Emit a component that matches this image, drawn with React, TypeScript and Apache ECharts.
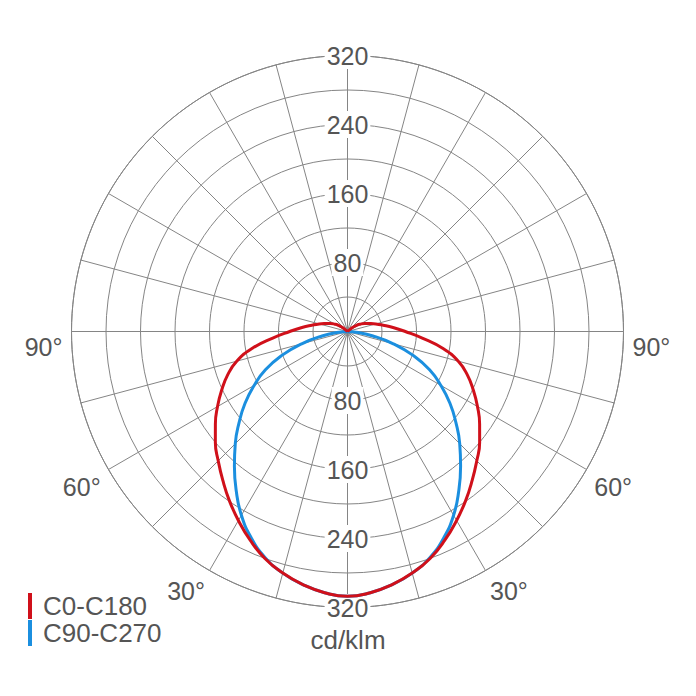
import React, { useEffect, useRef } from 'react';
import * as echarts from 'echarts';

// Polar angle (degrees from nadir) and luminous intensity (cd/klm)
const ANGLES = [0, 5, 10, 15, 20, 25, 30, 35, 40, 45, 50, 55, 60, 65, 70, 75, 80, 85, 90, 95, 100, 105, 110, 115, 120, 125, 130, 135];
const C0_C180 = [307, 304, 298, 290, 280, 267, 253, 239, 225, 212, 200, 187, 174, 161, 148, 133, 112, 87, 67, 53, 42, 34, 27, 22, 17, 12, 6, 0];
const C90_C270 = [307, 304, 298, 290, 279, 264, 246, 225, 204, 184, 164, 145, 125, 105, 81, 55, 30, 10, 0, 0, 0, 0, 0, 0, 0, 0, 0, 0];
const RADIUS_LABELS = [80, 160, 240, 320];
const ANGLE_LABELS = [30, 60, 90];
const SERIES_NAMES = ['C0-C180', 'C90-C270'];
const UNIT = 'cd/klm';

const RED = '#d0101a';
const BLUE = '#1b8fdf';
const GRID = '#858585';
const TEXT = '#555555';
const FONT = '"Liberation Sans", Arial, Helvetica, sans-serif';

function toPolar(values: number[]): [number, number][] {
  const half: [number, number][] = [];
  for (let i = 0; i < ANGLES.length; i++) {
    half.push([values[i], ANGLES[i]]);
    if (values[i] === 0) break;
  }
  const left = half.slice().reverse();
  const right = half.slice(1).map(([r, a]) => [r, 360 - a] as [number, number]);
  return [...left, ...right];
}

const radiusLabel = {
  margin: 0,
  align: 'center',
  verticalAlign: 'middle',
  formatter: (v: number) => (RADIUS_LABELS.indexOf(v) >= 0 ? `{b|${v}}` : ''),
  rich: {
    b: {
      fontSize: 25,
      fontFamily: FONT,
      color: TEXT,
      backgroundColor: '#ffffff',
      padding: [1, 2],
      lineHeight: 20,
    },
  },
};

export default function App() {
  const ref = useRef<HTMLDivElement>(null);
  useEffect(() => {
    document.body.style.margin = '0';
    if (!ref.current) return;
    const chart = echarts.init(ref.current, undefined, { renderer: 'svg' });
    chart.setOption({
      animation: false,
      backgroundColor: '#ffffff',
      textStyle: { fontFamily: FONT },
      title: {
        text: UNIT,
        left: 'center',
        top: 627,
        padding: 0,
        textStyle: { fontSize: 26, fontWeight: 'normal', color: TEXT, fontFamily: FONT },
      },
      legend: {
        data: SERIES_NAMES,
        orient: 'vertical',
        left: 28,
        top: 593,
        padding: 0,
        icon: 'rect',
        itemWidth: 4,
        itemHeight: 26,
        itemGap: 1,
        selectedMode: false,
        textStyle: { fontSize: 26, color: TEXT, fontFamily: FONT, padding: [0, 0, 0, 6] },
      },
      polar: [
        { center: [347.5, 331.5], radius: 276 },
        { center: [347.5, 331.5], radius: 276 },
      ],
      angleAxis: [
        {
          polarIndex: 0,
          type: 'value',
          min: 0,
          max: 360,
          interval: 15,
          startAngle: 270,
          clockwise: true,
          axisLine: { show: true, lineStyle: { color: GRID, width: 1 } },
          axisTick: { show: false },
          splitLine: { show: true, lineStyle: { color: GRID, width: 1 } },
          axisLabel: {
            margin: 9,
            fontSize: 25,
            color: TEXT,
            fontFamily: FONT,
            formatter: (v: number) => {
              const a = v <= 180 ? v : 360 - v;
              if (ANGLE_LABELS.indexOf(a) < 0) return '';
              return a === 90 ? `{h|${a}°}` : `${a}°`;
            },
            rich: {
              h: { fontSize: 25, color: TEXT, fontFamily: FONT, padding: [30, 0, 0, 0] },
            },
          },
        },
        {
          polarIndex: 1,
          type: 'value',
          min: 0,
          max: 360,
          startAngle: 90,
          show: false,
        },
      ],
      radiusAxis: [
        {
          polarIndex: 0,
          type: 'value',
          min: 0,
          max: 320,
          interval: 40,
          axisLine: { show: false },
          axisTick: { show: false },
          splitLine: { show: true, lineStyle: { color: GRID, width: 1 } },
          axisLabel: radiusLabel,
        },
        {
          polarIndex: 1,
          type: 'value',
          min: 0,
          max: 320,
          interval: 40,
          axisLine: { show: false },
          axisTick: { show: false },
          splitLine: { show: false },
          axisLabel: radiusLabel,
        },
      ],
      series: [
        {
          name: SERIES_NAMES[1],
          type: 'line',
          coordinateSystem: 'polar',
          polarIndex: 0,
          data: toPolar(C90_C270),
          smooth: 0.5,
          symbol: 'none',
          showSymbol: false,
          lineStyle: { color: BLUE, width: 3 },
          itemStyle: { color: BLUE },
          z: 3,
        },
        {
          name: SERIES_NAMES[0],
          type: 'line',
          coordinateSystem: 'polar',
          polarIndex: 0,
          data: toPolar(C0_C180),
          smooth: 0.5,
          symbol: 'none',
          showSymbol: false,
          lineStyle: { color: RED, width: 3 },
          itemStyle: { color: RED },
          z: 4,
        },
      ],
    });
    return () => chart.dispose();
  }, []);
  return <div ref={ref} style={{ width: 696, height: 696 }} />;
}
